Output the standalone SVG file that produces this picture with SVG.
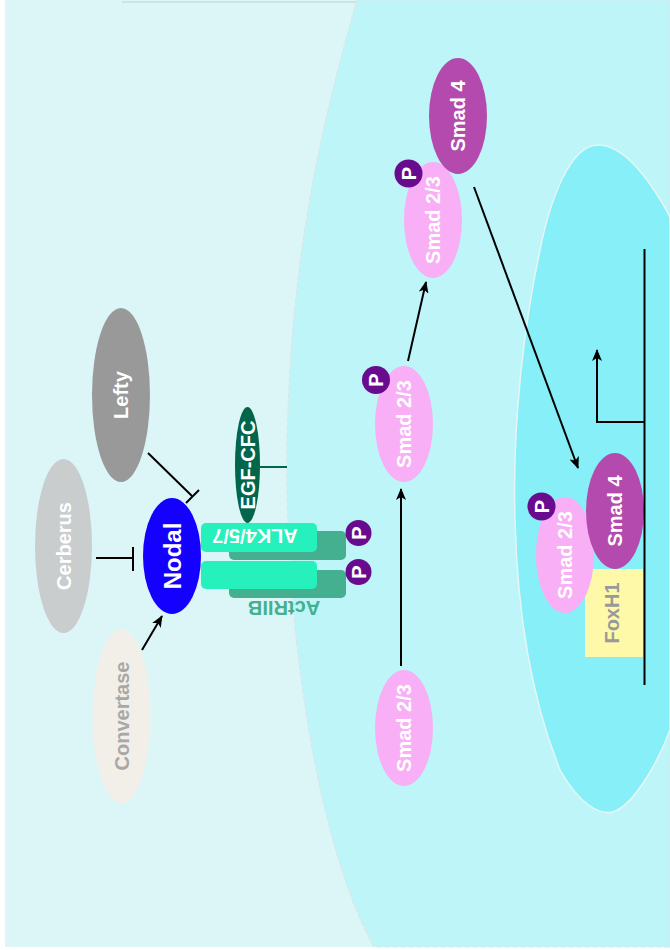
<svg xmlns="http://www.w3.org/2000/svg" width="670" height="950" viewBox="0 0 670 950">
<defs>
<style>
.t{font-family:"Liberation Sans",Arial,sans-serif;font-weight:bold;font-size:20px;text-anchor:middle;dominant-baseline:central;fill:#ffffff}
.s23{fill:#f9aff5}
.s4{fill:#b44aad}
.p{fill:#690b8f}
.ln{stroke:#000;stroke-width:2;fill:none}
</style>
<marker id="ah" viewBox="0 0 12 10" refX="11" refY="5" markerWidth="12" markerHeight="10" markerUnits="userSpaceOnUse" orient="auto">
<path d="M0,0 L12,5 L0,10 L3,5 Z" fill="#000"/>
</marker>
</defs>
<rect x="0" y="0" width="670" height="950" fill="#ffffff"/>
<rect x="5" y="0" width="665" height="947" fill="#dcf6f8"/>
<line x1="122" y1="2" x2="670" y2="2" stroke="#cde2e4" stroke-width="2"/>
<g id="cell">
<path d="M357,0 C320,130 290,260 287,450 C285,640 320,850 374,947 L670,947 L670,0 Z" fill="#bdf5f9" stroke="#d8e6e8" stroke-width="1.2" stroke-dasharray="6 2"/>
</g>
<g id="nucleus">
<path d="M670,217 C650,180 625,145 598,145 C570,145 550,200 540,250 C525,320 512,420 515,520 C518,640 540,720 560,770 C580,805 600,815 612,812 C630,808 655,770 670,730 Z" fill="#86eff7" stroke="#e6f6f7" stroke-width="1.5"/>
</g>
<g id="convertase">
<ellipse cx="121.5" cy="716" rx="29" ry="87" fill="#f2efe8"/>
<text class="t" style="fill:#a8a8a8" transform="rotate(-90 121.5 716)" x="121.5" y="716">Convertase</text>
</g>
<g id="cerberus">
<ellipse cx="63.5" cy="546" rx="28.5" ry="87" fill="#c9cdcd"/>
<text class="t" transform="rotate(-90 63.5 546)" x="63.5" y="546">Cerberus</text>
</g>
<g id="lefty">
<ellipse cx="121" cy="395" rx="29" ry="87" fill="#999999"/>
<text class="t" transform="rotate(-90 121 395)" x="121" y="395">Lefty</text>
</g>
<g id="nodal">
<ellipse cx="172" cy="556" rx="29" ry="58" fill="#1400ff"/>
<text class="t" style="font-size:24px" transform="rotate(-90 172 556)" x="172" y="556">Nodal</text>
</g>
<g id="actriib">
<rect x="229" y="531" width="117" height="29" rx="5" fill="#45b08f"/>
<rect x="229" y="570" width="117" height="28" rx="5" fill="#45b08f"/>
<text class="t" style="fill:#45b08f" transform="rotate(180 284 608)" x="284" y="608">ActRIIB</text>
</g>
<g id="alk">
<rect x="201" y="523" width="116" height="29" rx="5" fill="#26f0bc"/>
<rect x="201" y="561" width="116" height="28" rx="5" fill="#26f0bc"/>
<text class="t" transform="rotate(180 255 536)" x="255" y="536">ALK4/5/7</text>
</g>
<g id="egfcfc">
<ellipse cx="247.5" cy="465" rx="12.5" ry="58" fill="#03654a"/>
<text class="t" transform="rotate(-90 247.5 465)" x="247.5" y="465">EGF-CFC</text>
</g>
<g id="p-receptor-1">
<circle cx="358.5" cy="533" r="13" class="p"/>
<text class="t" transform="rotate(-90 358.5 533)" x="358.5" y="533">P</text>
</g>
<g id="p-receptor-2">
<circle cx="358.5" cy="572" r="13" class="p"/>
<text class="t" transform="rotate(-90 358.5 572)" x="358.5" y="572">P</text>
</g>
<g id="smad23-a">
<ellipse cx="404" cy="728" rx="29" ry="58" class="s23"/>
<text class="t" transform="rotate(-90 404 728)" x="404" y="728">Smad 2/3</text>
</g>
<g id="smad23-b">
<ellipse cx="404" cy="424" rx="29" ry="58" class="s23"/>
<text class="t" transform="rotate(-90 404 424)" x="404" y="424">Smad 2/3</text>
<circle cx="376" cy="380" r="14" class="p"/>
<text class="t" transform="rotate(-90 376 380)" x="376" y="380">P</text>
</g>
<g id="smad23-c">
<ellipse cx="433" cy="220" rx="29" ry="58" class="s23"/>
<text class="t" transform="rotate(-90 433 220)" x="433" y="220">Smad 2/3</text>
<circle cx="408.5" cy="173.5" r="14" class="p"/>
<text class="t" transform="rotate(-90 408.5 173.5)" x="408.5" y="173.5">P</text>
</g>
<g id="smad4-a">
<ellipse cx="458" cy="116" rx="29" ry="58" class="s4"/>
<text class="t" transform="rotate(-90 458 116)" x="458" y="116">Smad 4</text>
</g>
<g id="foxh1">
<rect x="585" y="569" width="58" height="88" fill="#fdf9a8"/>
<text class="t" style="fill:#999999" transform="rotate(-90 612 613)" x="612" y="613">FoxH1</text>
</g>
<g id="smad23-d">
<ellipse cx="565" cy="555" rx="29" ry="58" class="s23"/>
<text class="t" transform="rotate(-90 565 555)" x="565" y="555">Smad 2/3</text>
<circle cx="541.5" cy="506.5" r="14" class="p"/>
<text class="t" transform="rotate(-90 541.5 506.5)" x="541.5" y="506.5">P</text>
</g>
<g id="smad4-b">
<ellipse cx="615" cy="511" rx="29" ry="58" class="s4"/>
<text class="t" transform="rotate(-90 615 511)" x="615" y="511">Smad 4</text>
</g>
<g id="connectors">
<line class="ln" x1="96" y1="558" x2="133" y2="558"/>
<line class="ln" x1="133" y1="547" x2="133" y2="571"/>
<line class="ln" x1="148" y1="453" x2="192" y2="496"/>
<line class="ln" x1="186" y1="503" x2="199" y2="490"/>
<line class="ln" x1="142" y1="650" x2="162" y2="616" marker-end="url(#ah)"/>
<line x1="260" y1="467" x2="287" y2="467" stroke="#03654a" stroke-width="2"/>
<line class="ln" x1="401" y1="666" x2="401" y2="489" marker-end="url(#ah)"/>
<line class="ln" x1="408" y1="361" x2="426" y2="282" marker-end="url(#ah)"/>
<line class="ln" x1="474" y1="187" x2="578" y2="468" marker-end="url(#ah)"/>
<line class="ln" x1="644.5" y1="249" x2="644.5" y2="685"/>
<polyline class="ln" points="644.5,422 597,422 597,350" marker-end="url(#ah)"/>
</g>
</svg>
